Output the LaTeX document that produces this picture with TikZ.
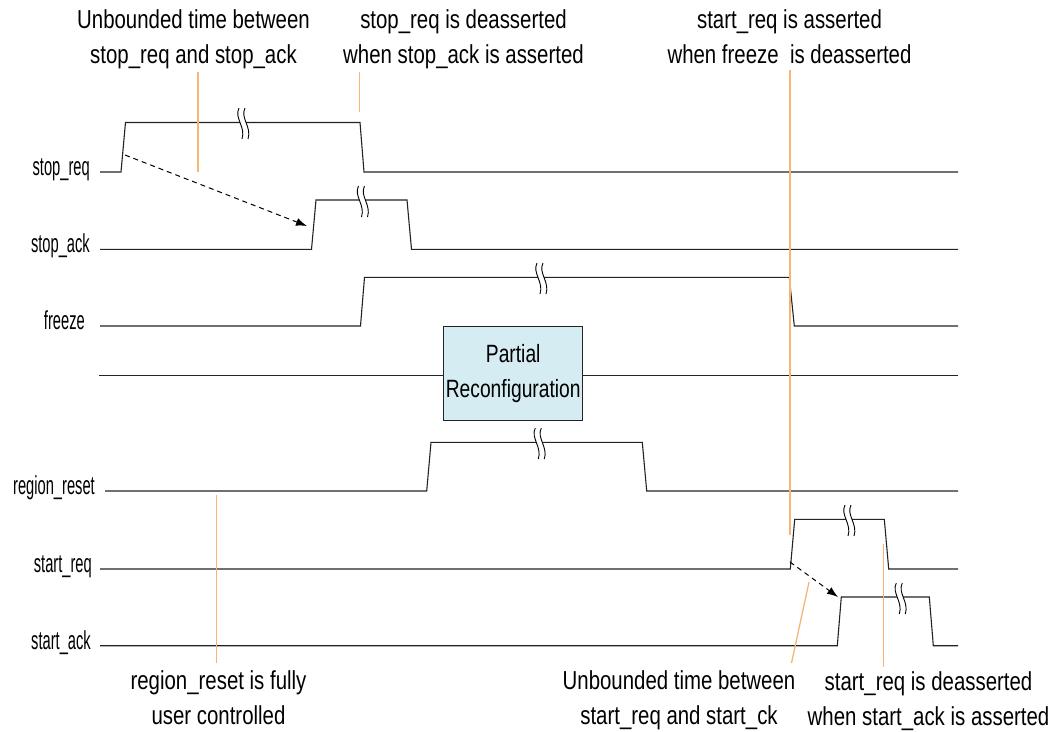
\documentclass[tikz,border=0pt]{standalone}
\usepackage{fontspec}
\setmainfont[FakeStretch=0.785]{Liberation Sans}
\newfontfamily\labfont[FakeStretch=0.565]{Liberation Sans}
\newfontfamily\boxfont[FakeStretch=0.77]{Liberation Sans}
\usetikzlibrary{arrows.meta}
\definecolor{wire}{RGB}{35,35,35}
\definecolor{notec}{RGB}{248,180,115}
\definecolor{prfill}{RGB}{214,236,243}
\begin{document}
\begin{tikzpicture}[x=1pt,y=-1pt,
  wave/.style={draw=wire, line width=1.1pt, line join=miter},
  noteline/.style={draw=notec, line width=1.3pt},
  sig/.style={font=\labfont\fontsize{26}{26}\selectfont, anchor=base east, inner sep=0pt},
  ann/.style={font=\fontsize{26}{35}\selectfont, align=center, anchor=base, inner sep=0pt},
  dasharrow/.style={draw=black, line width=1pt, dash pattern=on 5pt off 4pt, -{Latex[length=11pt,width=8pt]}},
  prbox/.style={draw=wire, fill=prfill, line width=1pt, minimum width=139pt, minimum height=94pt, inner sep=0pt, align=center, font=\boxfont\fontsize{25}{35}\selectfont},
  brk/.pic={
    \fill[white] (-3,-15) .. controls (-8,-5) and (4,4) .. (0,16) -- (6,16) .. controls (10,4) and (-2,-5) .. (3,-15) -- cycle;
    \draw[black, line width=0.9pt] (-3,-15) .. controls (-8,-5) and (4,4) .. (0,16);
    \draw[black, line width=0.9pt] (3,-15) .. controls (-2,-5) and (10,4) .. (6,16);
  }]
\useasboundingbox (0,0) rectangle (1054,731);

% signal labels
\node[sig] (lsreq) at (90,175.5) {stop\_req};
\node[sig] (lsack) at (90,252.5) {stop\_ack};
\node[sig] (lfrz) at (85,329) {freeze};
\node[sig] (lrr) at (95,494.5) {region\_reset};
\node[sig] (lstr) at (92,572.5) {start\_req};
\node[sig] (lsta) at (91,649) {start\_ack};

% waveforms
\draw[wave] (100,172) -- (121,172) -- (125.5,122.5) -- (360,122.5) -- (364,172) -- (958,172);
\draw[wave] (100,249.3) -- (311.5,249.3) -- (316,200) -- (407,200) -- (411.5,249.3) -- (958,249.3);
\draw[wave] (100,326) -- (360.5,326) -- (364.5,277.3) -- (789.3,277.3) -- (794.3,326) -- (958,326);
\draw[wave] (99,375.7) -- (958,375.7);
\draw[wave] (105,491) -- (426.7,491) -- (431,442.3) -- (642.3,442.3) -- (646.7,491) -- (958,491);
\draw[wave] (100,569) -- (790.3,569) -- (794.7,519.3) -- (884.3,519.3) -- (888.7,569) -- (958,569);
\draw[wave] (100,645.7) -- (837.3,645.7) -- (841.3,597) -- (929.3,597) -- (933.3,645.7) -- (958,645.7);

% break marks
\pic at (242,123) {brk};
\pic at (361.5,201) {brk};
\pic at (540,278) {brk};
\pic at (538.3,443) {brk};
\pic at (848,520) {brk};
\pic at (899.3,598) {brk};

% partial reconfiguration box
\node[prbox] (pr) at (513.2,373.7) {Partial\\Reconfiguration};

% dashed arrows
\coordinate (sreqrise) at (125,155);
\coordinate (sackrise) at (307,226);
\coordinate (streqrise) at (790,562);
\coordinate (stackrise) at (838,597);
\draw[dasharrow] (sreqrise) -- (sackrise);
\draw[dasharrow] (streqrise) -- (stackrise);

% annotations (anchor = baseline of last line)
\node[ann] (a1) at (193.5,63) {Unbounded time between\\stop\_req and stop\_ack};
\node[ann] (a2) at (463.5,63) {stop\_req is deasserted\\when stop\_ack is asserted};
\node[ann] (a3) at (789.5,63) {start\_req is asserted\\when freeze\ \ is deasserted};
\node[ann] (a4) at (218.5,724) {region\_reset is fully\\user controlled};
\node[ann] (a5) at (679,724) {Unbounded time between\\start\_req and start\_ck};
\node[ann] (a6) at (928.5,725) {start\_req is deasserted\\when start\_ack is asserted};

% orange pointer lines
\coordinate (o1a) at (198,72);   \coordinate (o1b) at (198,172);
\coordinate (o2a) at (359.3,72); \coordinate (o2b) at (359.3,112);
\coordinate (o3a) at (790,70);   \coordinate (o3b) at (790,535);
\coordinate (o4a) at (216.7,495); \coordinate (o4b) at (216.7,663);
\coordinate (o5a) at (809,582);  \coordinate (o5b) at (791.5,663);
\coordinate (o6a) at (883.7,544); \coordinate (o6b) at (883.7,667);
\draw[noteline] (o1a) -- (o1b);
\draw[noteline] (o2a) -- (o2b);
\draw[noteline] (o3a) -- (o3b);
\draw[noteline] (o4a) -- (o4b);
\draw[noteline] (o5a) -- (o5b);
\draw[noteline] (o6a) -- (o6b);
\end{tikzpicture}
\end{document}
